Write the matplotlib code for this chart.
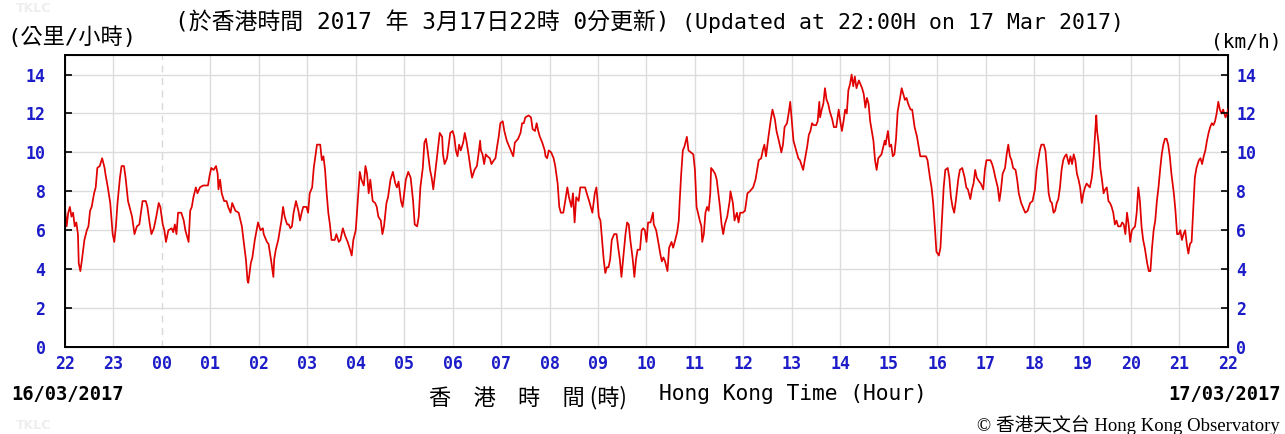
import matplotlib
matplotlib.use("Agg")
import matplotlib.pyplot as plt
import numpy as np

# minutes after 22:00 on 16/03/2017
minutes = [
    0, 2, 4, 6, 8, 10, 12, 14, 16, 17, 19, 21, 24, 27, 29, 31, 33, 36, 38, 40, 43, 46, 49, 50, 53, 56,
    59, 61, 63, 65, 68, 70, 73, 75, 78, 83, 86, 89, 92, 94, 96, 100, 102, 105, 107, 110, 113, 116, 118,
    121, 123, 125, 128, 132, 134, 136, 138, 140, 144, 147, 149, 153, 155, 157, 159, 162, 164, 167, 171,
    177, 179, 181, 184, 187, 189, 190, 192, 194, 197, 200, 202, 205, 207, 211, 215, 219, 221, 224, 226,
    227, 230, 232, 235,
    239, 242, 245, 246, 250, 252, 255, 258, 259, 261, 264, 266, 268, 270, 272, 275, 277, 279, 281, 283,
    286, 289, 291, 293, 295, 299, 301, 303, 306, 308, 310, 312, 316, 318, 320, 322, 324, 326, 328, 330,
    334, 336, 339, 341, 344, 347, 350, 353, 355, 357, 360, 362, 365, 367, 370, 372, 374, 376, 378, 381,
    384, 386, 388, 391, 393, 395, 398, 400, 403, 406, 409, 411, 413, 416, 418, 420, 422, 425, 428, 431,
    433, 436, 438, 440, 443, 445, 447, 449, 452, 454, 456, 459, 462, 464, 467, 468, 470, 473,
    477, 480, 482, 484, 486, 488, 490, 493, 495, 497, 500, 502, 504, 507, 510, 512, 514, 515, 517, 519,
    521, 523, 526, 528, 531, 533, 535, 537, 539, 542, 544, 547, 549, 552, 555, 557, 561, 564, 566, 568,
    570, 574, 577, 579, 582, 584, 586, 588, 591, 594, 595, 597, 599, 602, 605, 607, 610, 612, 614, 617,
    619, 622, 624, 627, 629, 631, 633, 636, 638, 641, 644, 646, 649, 651, 653, 656, 658, 661, 663, 665,
    667, 669, 671, 673, 675, 677, 680, 683, 685, 687, 689, 691, 694, 696, 698, 700, 703, 705, 707, 709,
    712, 714, 716,
    718, 720, 722, 725, 728, 729, 732, 735, 737, 739, 741, 743, 746, 748, 751, 753, 755, 758, 760, 761,
    763, 765, 767, 770, 772, 775, 778, 780, 782, 786, 788, 789, 791, 793, 795, 797, 799, 800, 802, 805,
    807, 809, 811, 813, 815, 817, 820, 823, 824, 827, 829, 832, 834, 836, 839, 842, 845, 848, 852, 855,
    857, 859, 862, 864, 866, 868, 871, 874, 876, 879, 881, 885, 887, 889, 891, 894, 896, 898, 900, 902,
    904, 906, 908, 910, 914, 916, 919, 921, 923, 925, 927, 930, 932, 934, 935, 937, 939, 941, 943, 945,
    947, 950, 952, 955, 958,
    960, 962, 964, 966, 968, 970, 972, 974, 976, 978, 980, 983, 985, 987, 989, 991, 993, 995, 997, 999,
    1001, 1003, 1005, 1007, 1009, 1011, 1015, 1016, 1019, 1021, 1023, 1025, 1027, 1029, 1031, 1034,
    1036, 1038, 1040, 1042, 1044, 1047, 1049, 1052, 1055, 1057, 1059, 1063, 1066, 1068, 1071, 1073,
    1075, 1077, 1079, 1082, 1084, 1086, 1088, 1090, 1093, 1095, 1097, 1099, 1101, 1103, 1106, 1108,
    1111, 1114, 1116, 1118, 1121, 1123, 1125, 1127, 1129, 1132, 1134, 1137, 1139, 1141, 1146, 1148,
    1150, 1152, 1155, 1157, 1159, 1161, 1164, 1166, 1168, 1170, 1172, 1174, 1177, 1179, 1181, 1184,
    1186, 1189, 1192, 1195, 1198,
    1201, 1203, 1205, 1207, 1209, 1212, 1214, 1216, 1218, 1220, 1222, 1224, 1226, 1228, 1230, 1232,
    1234, 1236, 1238, 1240, 1243, 1245, 1247, 1249, 1251, 1253, 1255, 1257, 1259, 1261, 1263, 1265,
    1269, 1271, 1272, 1274, 1276, 1277, 1278, 1280, 1282, 1284, 1286, 1288, 1290, 1292, 1294, 1296,
    1298, 1300, 1302, 1304, 1307, 1309, 1311, 1313, 1315, 1317, 1319, 1321, 1323, 1325, 1327, 1329,
    1331, 1333, 1335, 1337, 1340, 1342, 1344, 1346, 1348, 1350, 1352, 1354, 1356, 1358, 1360, 1362,
    1364, 1366, 1368, 1370, 1373, 1375, 1377, 1379, 1381, 1383, 1385, 1387, 1389, 1391, 1393, 1395,
    1397, 1399, 1401, 1404, 1406, 1408, 1410, 1412, 1414, 1416, 1418, 1420, 1422, 1424, 1426, 1428,
    1430, 1432, 1434, 1437, 1439, 1440,
]

# wind speed (km/h)
speed = [
    7.1, 6.2, 6.9, 7.2, 6.7, 6.9, 6.2, 6.4, 5.8, 4.3, 3.9, 4.5, 5.5, 6.0, 6.2, 7.0, 7.2, 7.9, 8.2, 9.2,
    9.3, 9.7, 9.2, 8.9, 8.2, 7.4, 5.8, 5.4, 6.2, 7.4, 8.7, 9.3, 9.3, 8.7, 7.5, 6.7, 5.8, 6.2, 6.3, 6.9,
    7.5, 7.5, 7.2, 6.3, 5.8, 6.1, 6.7, 7.4, 7.2, 6.3, 6.0, 5.4, 6.0, 6.1, 5.9, 6.3, 5.8, 6.9, 6.9, 6.5,
    6.0, 5.4, 7.0, 7.2, 7.7, 8.2, 7.9, 8.2, 8.3, 8.3, 8.8, 9.2, 9.1, 9.3, 8.9, 8.1, 8.6, 7.9, 7.5, 7.5,
    7.2, 6.9, 7.4, 7.0, 6.9, 6.2, 5.5, 4.5, 3.4, 3.3, 4.3, 4.6, 5.5,
    6.4, 6.0, 6.1, 5.8, 5.4, 5.3, 4.5, 3.6, 4.5, 5.0, 5.5, 6.0, 6.5, 7.2, 6.7, 6.3, 6.3, 6.1, 6.2, 6.9,
    7.5, 7.0, 6.5, 6.9, 7.2, 7.2, 6.9, 7.9, 8.2, 9.2, 9.8, 10.4, 10.4, 9.6, 9.8, 9.1, 7.9, 6.9, 6.3, 5.5,
    5.5, 5.8, 5.4, 5.5, 6.1, 5.7, 5.4, 5.0, 4.7, 5.5, 6.0, 7.2, 9.0, 8.6, 8.3, 9.3, 8.9, 7.9, 8.6, 7.5,
    7.4, 7.2, 6.7, 6.5, 5.8, 6.2, 7.4, 7.7, 8.6, 9.0, 8.4, 8.2, 8.5, 7.5, 7.2, 7.9, 8.6, 9.0, 8.7, 7.5,
    6.3, 6.2, 6.7, 8.2, 9.2, 10.5, 10.7, 10.1, 9.1, 8.7, 8.1, 9.2, 10.3, 11.0, 10.8, 9.9, 9.4, 9.7,
    11.0, 11.1, 10.8, 10.1, 9.8, 10.4, 10.1, 10.5, 11.0, 10.6, 9.8, 9.2, 8.7, 9.1, 9.3, 9.9, 10.6, 10.1,
    9.9, 9.4, 9.9, 9.8, 9.7, 9.4, 9.6, 9.7, 10.3, 10.8, 11.5, 11.6, 11.1, 10.6, 10.4, 10.1, 9.8, 10.5,
    10.7, 11.0, 11.5, 11.5, 11.8, 11.9, 11.8, 11.2, 11.1, 11.5, 11.1, 10.8, 10.5, 10.1, 9.8, 9.7, 10.1,
    10.0, 9.7, 9.3, 8.4, 7.2, 6.9, 6.9, 7.4, 8.2, 7.7, 7.2, 7.9, 6.4, 7.7, 7.5, 8.2, 8.2, 8.2, 7.9, 7.5,
    7.2, 6.9, 7.9, 8.2, 6.7, 6.5, 5.5, 4.5, 3.8, 4.1, 4.1, 4.5, 5.5, 5.8, 5.8, 5.1, 4.5, 3.6, 4.5, 5.8,
    6.4, 6.3, 5.5, 4.5, 3.6, 4.5, 5.0, 5.0, 6.0, 6.1,
    6.0, 5.4, 6.4, 6.4, 6.9, 6.3, 6.0, 5.3, 4.8, 4.4, 4.6, 4.4, 3.9, 5.1, 5.4, 5.1, 5.4, 5.9, 6.5, 7.4,
    8.9, 10.1, 10.3, 10.8, 10.1, 10.0, 9.9, 9.1, 7.2, 6.5, 6.2, 5.4, 5.8, 6.9, 7.2, 7.0, 7.9, 9.2, 9.1,
    8.9, 8.6, 7.9, 7.2, 6.3, 5.8, 6.3, 6.7, 7.5, 8.0, 7.4, 6.5, 6.9, 6.4, 6.9, 6.9, 7.0, 7.9, 8.0, 8.2,
    8.6, 9.1, 9.6, 9.7, 10.1, 10.4, 9.8, 10.8, 11.7, 12.2, 11.7, 11.1, 10.4, 10.0, 10.4, 11.3, 11.5,
    12.0, 12.6, 11.6, 10.6, 10.3, 10.0, 9.7, 9.6, 9.1, 9.6, 10.3, 10.9, 11.1, 11.5, 11.4, 11.4, 11.6,
    12.6, 11.8, 12.2, 12.5, 13.3, 12.7, 12.5, 12.1, 11.7, 11.3, 11.3, 12.2,
    11.6, 11.1, 11.6, 12.2, 12.0, 13.2, 13.5, 14.0, 13.4, 13.9, 13.3, 13.7, 13.5, 13.3, 13.0, 12.3,
    12.8, 12.5, 11.6, 11.1, 10.6, 9.6, 9.1, 9.7, 9.8, 9.9, 10.6, 10.4, 11.1, 10.3, 10.4, 9.8, 9.9,
    10.7, 12.1, 12.8, 13.3, 13.0, 12.7, 12.8, 12.5, 12.2, 12.2, 11.3, 10.8, 10.3, 9.8, 9.8, 9.8, 9.6,
    8.7, 8.2, 7.4, 6.2, 4.9, 4.7, 5.1, 6.7, 8.2, 9.1, 9.2, 8.7, 7.7, 7.2, 6.9, 7.5, 8.6, 9.1, 9.2, 8.7,
    8.2, 8.1, 7.6, 8.1, 8.4, 9.1, 8.7, 8.5, 8.4, 8.1, 9.1, 9.6, 9.6, 9.4, 9.1, 8.7, 8.2, 7.5, 8.1, 8.9,
    9.2, 9.9, 10.4, 9.8, 9.6, 9.2, 9.1, 8.6, 7.9, 7.4, 7.2, 6.9, 7.0, 7.4, 7.5,
    8.1, 9.1, 9.6, 10.1, 10.4, 10.4, 10.1, 9.1, 7.9, 7.5, 7.4, 6.9, 7.0, 7.4, 7.6, 8.2, 9.1, 9.6, 9.8,
    9.9, 9.4, 9.8, 9.4, 9.9, 9.6, 8.9, 8.6, 8.2, 7.4, 7.9, 8.2, 8.4, 8.2, 8.6, 8.9, 9.9, 11.3, 11.9,
    11.1, 10.4, 9.2, 8.6, 7.9, 8.1, 8.2, 7.5, 7.4, 7.2, 6.9, 6.3, 6.5, 6.2, 6.2, 6.4, 6.3, 5.8, 6.9,
    6.3, 5.4, 6.0, 6.1, 6.2, 6.9, 8.2, 7.5, 6.2, 5.5, 5.1, 4.3, 3.9, 3.9, 5.1, 6.0, 6.5, 7.5, 8.2, 9.1,
    9.9, 10.4, 10.7, 10.7, 10.4, 9.8, 8.9, 7.9, 7.0, 5.8, 5.8, 6.0, 5.5, 5.8, 6.0, 5.3, 4.8, 5.3, 5.4,
    7.0, 8.7, 9.2, 9.6, 9.7, 9.4, 9.8, 10.1, 10.6, 11.0, 11.3, 11.5, 11.4, 11.6, 12.0, 12.6, 12.2, 12.0,
    12.2, 11.8, 12.0, 12.2,
]

hour_labels = ['22', '23', '00', '01', '02', '03', '04', '05', '06', '07', '08', '09', '10',
               '11', '12', '13', '14', '15', '16', '17', '18', '19', '20', '21', '22']
yticks = [0, 2, 4, 6, 8, 10, 12, 14]

mono = ['DejaVu Sans Mono', 'Noto Sans CJK TC']
blue = '#1c1cc8'

t = np.array(minutes) / 60.0

fig = plt.figure(figsize=(12.85, 4.34), dpi=100)
ax = fig.add_axes([0.0506, 0.2005, 0.905, 0.6725])

# grid, midnight line dashed
for h in range(1, 24):
    if h == 2:
        ax.axvline(h, color='#d8d8d8', lw=1, ls=(0, (5, 4)), zorder=0)
    else:
        ax.axvline(h, color='#dcdcdc', lw=1, zorder=0)
for v in yticks[1:]:
    ax.axhline(v, color='#dcdcdc', lw=1, zorder=0)

ax.plot(t, speed, color='#e00000', lw=1.25, zorder=3)

ax.set_xlim(0, 24)
ax.set_ylim(0, 15)
ax.set_xticks(range(25))
ax.set_xticklabels(hour_labels)
ax.set_yticks(yticks)
ax.tick_params(axis='x', length=0, pad=6)
ax.tick_params(axis='y', direction='in', length=5, width=1.2, pad=14)
for lab in ax.get_xticklabels() + ax.get_yticklabels():
    lab.set_family('DejaVu Sans Mono')
    lab.set_fontweight('bold')
    lab.set_fontsize(12)
    lab.set_color(blue)
for s in ax.spines.values():
    s.set_color('black')
    s.set_linewidth(1.4)

ax2 = ax.twinx()
ax2.set_ylim(0, 15)
ax2.set_yticks(yticks)
ax2.tick_params(axis='y', direction='in', length=5, width=1.2, pad=6)
for lab in ax2.get_yticklabels():
    lab.set_family('DejaVu Sans Mono')
    lab.set_fontweight('bold')
    lab.set_fontsize(12)
    lab.set_color(blue)

# texts
fig.text(0.006, 0.915, '(公里/小時)', family=mono, fontsize=16, ha='left', va='center')
fig.text(0.136, 0.948, '(於香港時間 2017 年 3月17日22時 0分更新)', family=mono, fontsize=16.5,
         ha='left', va='center')
fig.text(0.531, 0.948, '(Updated at 22:00H on 17 Mar 2017)', family=mono, fontsize=15.5,
         ha='left', va='center')
fig.text(0.997, 0.903, '(km/h)', family=mono, fontsize=14, ha='right', va='center')
fig.text(0.009, 0.09, '16/03/2017', family='DejaVu Sans Mono', fontweight='bold',
         fontsize=13.5, ha='left', va='center')
fig.text(0.997, 0.09, '17/03/2017', family='DejaVu Sans Mono', fontweight='bold',
         fontsize=13.5, ha='right', va='center')
fig.text(0.334, 0.085, '香\u3000港\u3000時\u3000間 (時)', family='Noto Sans CJK TC', fontsize=16,
         ha='left', va='center')
fig.text(0.513, 0.093, 'Hong Kong Time (Hour)', family=mono, fontsize=15.3, ha='left', va='center')
fig.text(0.996, 0.02, '© 香港天文台 Hong Kong Observatory', family=['Liberation Serif', 'Noto Sans CJK TC'],
         fontsize=13.5, ha='right', va='center')
fig.text(0.012, 0.995, 'TKLC', family='DejaVu Sans', fontweight='bold', fontsize=9,
         color='#eeeeee', ha='left', va='top')
fig.text(0.012, 0.004, 'TKLC', family='DejaVu Sans', fontweight='bold', fontsize=9,
         color='#eeeeee', ha='left', va='bottom')

fig.savefig('out.png', dpi=100, facecolor='white')
